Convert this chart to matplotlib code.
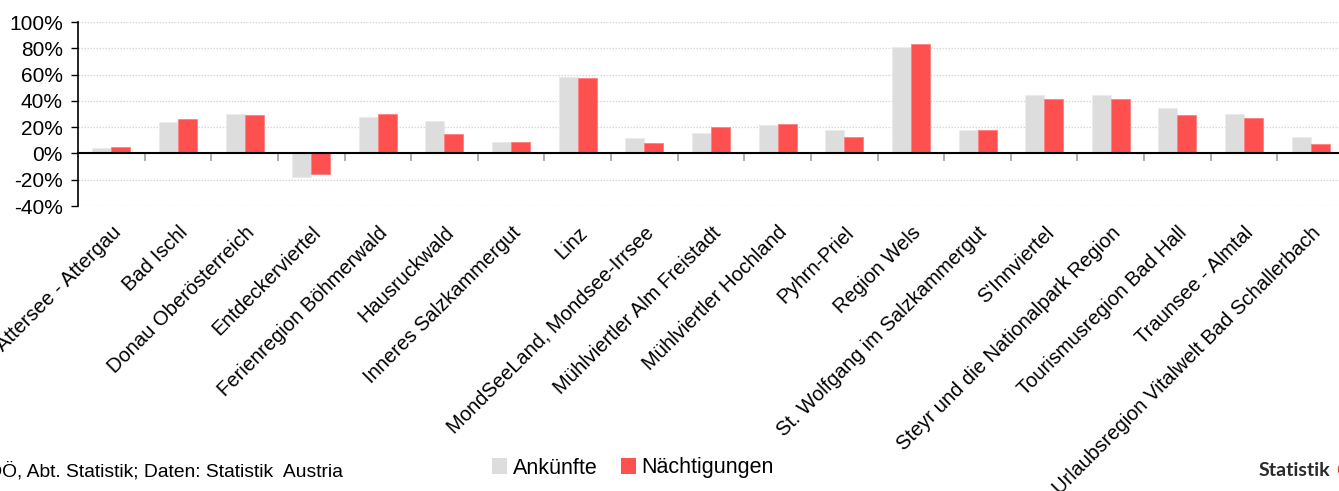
import numpy as np
import matplotlib
matplotlib.use("Agg")
import matplotlib.pyplot as plt
from matplotlib.patches import Patch

plt.rcParams["font.family"] = ["Liberation Sans", "DejaVu Sans"]

GREY_BAR = "#DDDDDD"
RED_BAR = "#FF5050"
GRID = "#D6D6D6"
TICK = "#A0A0A0"

regions = [
    "Attersee - Attergau", "Bad Ischl", "Donau Oberösterreich", "Entdeckerviertel",
    "Ferienregion Böhmerwald", "Hausruckwald", "Inneres Salzkammergut", "Linz",
    "MondSeeLand, Mondsee-Irrsee", "Mühlviertler Alm Freistadt", "Mühlviertler Hochland",
    "Pyhrn-Priel", "Region Wels", "St. Wolfgang im Salzkammergut", "S'Innviertel",
    "Steyr und die Nationalpark Region", "Tourismusregion Bad Hall", "Traunsee - Almtal",
    "Urlaubsregion Vitalwelt Bad Schallerbach",
]
ankuenfte = [4.3, 23.7, 30.0, -18.0, 28.0, 24.7, 8.7, 57.8, 11.5, 15.5, 21.4, 18.0,
             80.9, 17.8, 44.5, 44.5, 34.6, 30.0, 12.2]
naechtigungen = [4.8, 26.5, 29.3, -15.3, 29.8, 14.5, 8.4, 57.3, 7.6, 20.0, 22.6, 12.2,
                 83.5, 18.0, 41.5, 41.5, 29.0, 27.0, 6.9]
yticks = [-40, -20, 0, 20, 40, 60, 80, 100]

fig = plt.figure(figsize=(13.39, 4.91), dpi=100)
ax = fig.add_axes([78 / 1339, 1 - 206 / 491, (1344 - 78) / 1339, (206 - 22) / 491])

x = np.arange(len(regions))
w = 0.285
ax.bar(x - w / 2, ankuenfte, width=w, color=GREY_BAR, edgecolor="#EBEBEB", linewidth=0.6, zorder=3)
ax.bar(x + w / 2, naechtigungen, width=w, color=RED_BAR, edgecolor="#FF8080", linewidth=0.6, zorder=3)

ax.set_xlim(-0.5, len(regions) - 0.5)
ax.set_ylim(-40, 100)
ax.set_yticks(yticks)
ax.set_yticklabels([f"{v}%" for v in yticks], fontsize=15)
ax.grid(axis="y", color=GRID, linestyle=(0, (1.2, 1.2)), linewidth=0.9, zorder=0)

for s in ["top", "right"]:
    ax.spines[s].set_visible(False)
ax.spines["left"].set_color("black")
ax.spines["left"].set_linewidth(1.2)
ax.spines["bottom"].set_position(("data", 0))
ax.spines["bottom"].set_color("black")
ax.spines["bottom"].set_linewidth(1.5)
ax.spines["bottom"].set_zorder(4)
ax.tick_params(axis="y", length=5, width=1, color="black", pad=6)

ax.set_xticks(x)
ax.set_xticklabels(regions, rotation=45, ha="right", rotation_mode="anchor", fontsize=14.5)
ax.tick_params(axis="x", which="major", length=0, pad=50)
ax.set_xticks(x[1:] - 0.5, minor=True)
ax.tick_params(axis="x", which="minor", length=6, width=1.2, color=TICK, direction="out")

handles = [Patch(facecolor=GREY_BAR, edgecolor="none"), Patch(facecolor=RED_BAR, edgecolor="none")]
fig.legend(handles, ["Ankünfte", "Nächtigungen"], loc="center", bbox_to_anchor=(633 / 1339, 1 - 468 / 491),
           ncol=2, frameon=False, fontsize=15.5, handlelength=0.7, handleheight=0.7,
           handletextpad=0.25, columnspacing=1.1)

fig.text(343 / 1339, 1 - 471 / 491, "Grafik: Land OÖ, Abt. Statistik; Daten: Statistik  Austria",
         ha="right", va="center", fontsize=13.9)
fig.text(1330 / 1339, 1 - 471 / 491, "Statistik", ha="right", va="center", fontsize=14,
         fontweight="bold", color="#2B2B2B", family="Lato")
fig.text(1336 / 1339, 1 - 471 / 491, "O", ha="left", va="center", fontsize=13,
         fontweight="bold", color="#E8403A")

fig.savefig("out.png", dpi=100)
